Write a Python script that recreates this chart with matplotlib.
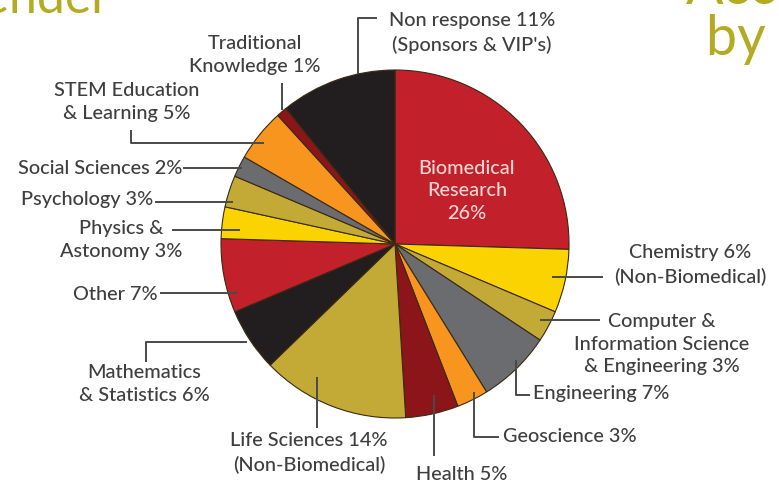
import numpy as np
import matplotlib.pyplot as plt

plt.rcParams['font.family'] = ['Lato', 'DejaVu Sans']

W, H = 779, 484

# data, clockwise from 12 o'clock
names = [
    "Biomedical\nResearch\n{}%",
    "Chemistry {}%\n(Non-Biomedical)",
    "Computer &\nInformation Science\n& Engineering {}%",
    "Engineering {}%",
    "Geoscience {}%",
    "Health {}%",
    "Life Sciences {}%\n(Non-Biomedical)",
    "Mathematics\n& Statistics {}%",
    "Other {}%",
    "Physics &\nAstonomy {}%",
    "Psychology {}%",
    "Social Sciences {}%",
    "STEM Education\n& Learning {}%",
    "Traditional\nKnowledge {}%",
    "Non response {}%\n(Sponsors & VIP's)",
]
values = [26, 6, 3, 7, 3, 5, 14, 6, 7, 3, 3, 2, 5, 1, 11]

RED = "#c2202a"
YEL = "#fbd400"
OLV = "#c3a935"
GRY = "#6b6c70"
ORG = "#f7951f"
DRD = "#8c1519"
BLK = "#221e1f"
colors = [RED, YEL, OLV, GRY, ORG, DRD, OLV, BLK, RED, YEL, OLV, GRY, ORG, DRD, BLK]

# label placement in pixels (x, y, ha) and leader paths
text_pos = [
    (467, 191, "center"),
    (690, 265, "center"),
    (662, 344, "center"),
    (533, 393, "left"),
    (503, 436, "left"),
    (462, 474, "center"),
    (309, 453, "center"),
    (144, 384, "center"),
    (158, 294, "right"),
    (121, 240, "center"),
    (153, 200, "right"),
    (182, 169, "right"),
    (127, 102, "center"),
    (255, 55, "center"),
    (472, 33, "center"),
]
leaders = [
    None,
    [(552, 277), (603, 277)],
    [(540, 320), (600, 320)],
    [(516, 360), (516, 395), (530, 395)],
    [(474, 392), (474, 437), (499, 437)],
    [(434, 395), (434, 456)],
    [(317, 377), (317, 428)],
    [(247, 342), (146, 342), (146, 362)],
    [(160, 293), (238, 293)],
    [(172, 230), (240, 230)],
    [(155, 202), (233, 202)],
    [(183, 168), (242, 168)],
    [(131, 130), (131, 143), (264, 143)],
    [(282, 83), (282, 110)],
    [(377, 18), (358, 18), (358, 74)],
]

fig = plt.figure(figsize=(W / 100, H / 100), dpi=100)
ax = fig.add_axes([0, 0, 1, 1])
ax.set_xlim(0, W)
ax.set_ylim(0, H)
ax.set_aspect("equal")
ax.axis("off")

def Y(y):
    return H - y

ax.pie(values, colors=colors, startangle=90, counterclock=False,
       center=(395, Y(244)), radius=174,
       wedgeprops=dict(edgecolor="#3b2a12", linewidth=0.8))
ax.set_xlim(0, W)
ax.set_ylim(0, H)

TXT = "#3f3f41"
for i, (n, v) in enumerate(zip(names, values)):
    x, y, ha = text_pos[i]
    col = "#f6d6d4" if i == 0 else TXT
    ax.text(x, Y(y), n.format(v), ha=ha, va="center", fontsize=14.3,
            fontweight="medium", color=col, linespacing=1.42)
    if leaders[i]:
        xs = [p[0] for p in leaders[i]]
        ys = [Y(p[1]) for p in leaders[i]]
        ax.plot(xs, ys, color="#4a4a4a", lw=1.4, solid_capstyle="butt")

# cut-off slide titles
ax.text(110, Y(13), "Gender", ha="right", va="baseline", fontsize=36, color="#b3ab22")
ax.text(686, Y(4), "Access", ha="left", va="baseline", fontsize=40, color="#b3ab22")
ax.text(706, Y(55), "by Field", ha="left", va="baseline", fontsize=40, color="#b3ab22")

fig.savefig("out.png", dpi=100)
